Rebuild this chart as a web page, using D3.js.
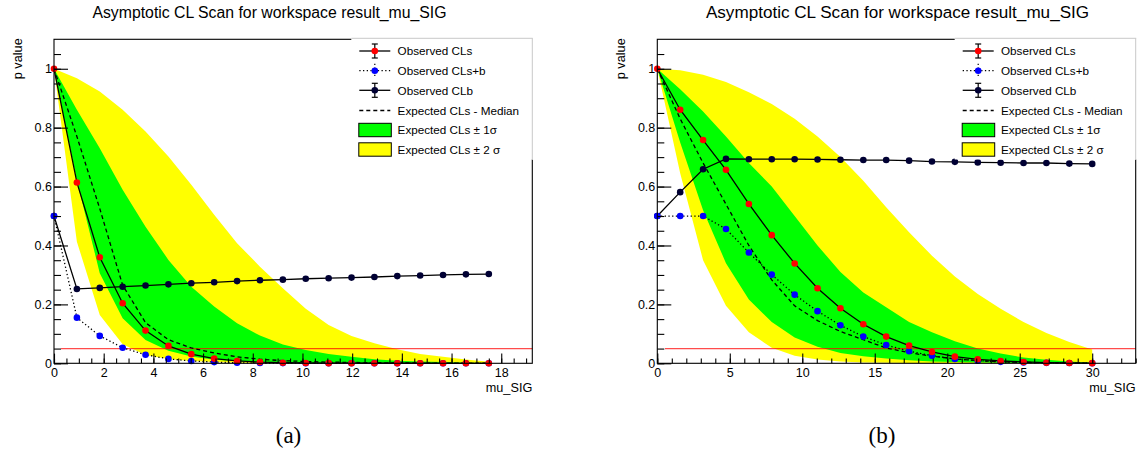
<!DOCTYPE html>
<html><head><meta charset="utf-8">
<script src="https://cdn.jsdelivr.net/npm/d3@7"></script>
<style>body{margin:0;background:#fff}svg{display:block}</style>
</head><body>
<svg id="chart" width="1137" height="455"></svg>
<script>
// ---------- DATA ----------
const titleText = "Asymptotic CL Scan for workspace result_mu_SIG";
const xTitle = "mu_SIG";
const yTitle = "p value";
const captions = ["(a)", "(b)"];
const legendLabels = ["Observed CLs", "Observed CLs+b", "Observed CLb",
  "Expected CLs - Median", "Expected CLs \u00b1 1\u03c3", "Expected CLs \u00b1 2 \u03c3"];
const yMajorTicks = [0, 0.2, 0.4, 0.6, 0.8, 1];
const yTickLabels = ["0", "0.2", "0.4", "0.6", "0.8", "1"];
const leftXTicks = [0, 2, 4, 6, 8, 10, 12, 14, 16, 18];
const rightXTicks = [0, 5, 10, 15, 20, 25, 30];
const cutLevel = 0.05;

// panel (a)
const muA = [0, 0.921, 1.842, 2.763, 3.684, 4.605, 5.526, 6.447, 7.368, 8.289, 9.211,
  10.132, 11.053, 11.974, 12.895, 13.816, 14.737, 15.658, 16.579, 17.5];
const clsA = [1, 0.614, 0.360, 0.204, 0.111, 0.059, 0.031, 0.016, 0.008, 0.004, 0.002,
  0.001, 0.0005, 0.0003, 0.0002, 0.0001, 0.0001, 0, 0, 0];
const clsbA = [0.5, 0.155, 0.093, 0.053, 0.029, 0.015, 0.008, 0.004, 0.002, 0.001, 0.0006,
  0.0003, 0.0002, 0.0001, 0, 0, 0, 0, 0, 0];
const clbA = [0.5, 0.2525, 0.256, 0.260, 0.264, 0.268, 0.272, 0.275, 0.279, 0.282, 0.284,
  0.287, 0.289, 0.291, 0.293, 0.296, 0.298, 0.300, 0.302, 0.303];
const medA = [1, 0.77, 0.525, 0.265, 0.138, 0.08, 0.052, 0.035, 0.022, 0.014, 0.009,
  0.006, 0.004, 0.003, 0.002, 0.0015, 0.001, 0.0007, 0.0005, 0.0003];
const m1A = [1, 0.62, 0.306, 0.153, 0.079, 0.043, 0.023, 0.012, 0.007, 0.004, 0.002,
  0.001, 0.0007, 0.0004, 0.0002, 0.0001, 0.0001, 0, 0, 0];
const p1A = [1, 0.861, 0.730, 0.589, 0.464, 0.351, 0.260, 0.193, 0.136, 0.094, 0.064,
  0.045, 0.032, 0.022, 0.014, 0.009, 0.006, 0.004, 0.002, 0.001];
const m2A = [1, 0.413, 0.164, 0.065, 0.028, 0.015, 0.008, 0.004, 0.002, 0.001, 0.0005,
  0.0003, 0.0001, 0, 0, 0, 0, 0, 0, 0];
const p2A = [1, 0.968, 0.923, 0.861, 0.787, 0.702, 0.606, 0.504, 0.408, 0.328, 0.255,
  0.185, 0.13, 0.093, 0.068, 0.048, 0.032, 0.022, 0.013, 0.005];

// panel (b)
const muB = [0, 1.579, 3.158, 4.737, 6.316, 7.895, 9.474, 11.053, 12.632, 14.211, 15.789,
  17.368, 18.947, 20.526, 22.105, 23.684, 25.263, 26.842, 28.421, 30];
const clsB = [1, 0.861, 0.758, 0.657, 0.541, 0.435, 0.339, 0.255, 0.187, 0.1325, 0.0906,
  0.060, 0.0385, 0.0226, 0.0136, 0.008, 0.0045, 0.002, 0.001, 0.0005];
const clsbB = [0.5, 0.5, 0.5, 0.456, 0.376, 0.301, 0.233, 0.177, 0.129, 0.0906, 0.062,
  0.041, 0.026, 0.015, 0.009, 0.005, 0.003, 0.0015, 0.001, 0.0003];
const clbB = [0.5, 0.581, 0.659, 0.694, 0.693, 0.693, 0.693, 0.692, 0.691, 0.690, 0.690,
  0.688, 0.685, 0.684, 0.682, 0.681, 0.680, 0.680, 0.678, 0.677];
const medB = [1, 0.83, 0.68, 0.54, 0.40, 0.283, 0.195, 0.145, 0.108, 0.08, 0.052,
  0.036, 0.024, 0.015, 0.009, 0.005, 0.003, 0.002, 0.001, 0.0005];
const m1B = [1, 0.75, 0.52, 0.34, 0.217, 0.14, 0.088, 0.056, 0.035, 0.024, 0.016,
  0.010, 0.006, 0.004, 0.0025, 0.0015, 0.001, 0.0005, 0.0003, 0.0001];
const p1B = [1, 0.93, 0.855, 0.77, 0.68, 0.60, 0.50, 0.40, 0.31, 0.24, 0.19,
  0.14, 0.105, 0.075, 0.05, 0.033, 0.02, 0.012, 0.006, 0.002];
const m2B = [1, 0.645, 0.35, 0.195, 0.105, 0.053, 0.026, 0.013, 0.006, 0.003, 0.0015,
  0.0008, 0.0004, 0.0002, 0.0001, 0, 0, 0, 0, 0];
const p2B = [1, 0.995, 0.98, 0.955, 0.92, 0.88, 0.83, 0.77, 0.70, 0.62, 0.53,
  0.445, 0.365, 0.295, 0.235, 0.185, 0.14, 0.103, 0.072, 0.047];

// ---------- LAYOUT ----------
const FONT = "'Liberation Sans', Arial, Helvetica, sans-serif";
const panels = [
  {mu: muA, cls: clsA, clsb: clsbA, clb: clbA, med: medA, m1: m1A, p1: p1A, m2: m2A, p2: p2A,
   fx0: 54, fx1: 532.3, xMax: 19.25, xTicks: leftXTicks, minorStep: 0.5, cutStart: 0.28,
   titleX: 269.5, titleSize: 15.8, capX: 288.5, caption: captions[0]},
  {mu: muB, cls: clsB, clsb: clsbB, clb: clbB, med: medB, m1: m1B, p1: p1B, m2: m2B, p2: p2B,
   fx0: 657.3, fx1: 1135.7, xMax: 33, xTicks: rightXTicks, minorStep: 1, cutStart: 0.53,
   titleX: 897.5, titleSize: 17.1, capX: 882, caption: captions[1]}
];
const fy0 = 39.3, fy1 = 363.3;
const svg = d3.select("#chart");

panels.forEach(p => {
  const g = svg.append("g");
  const x = d3.scaleLinear().domain([0, p.xMax]).range([p.fx0, p.fx1]);
  const y = d3.scaleLinear().domain([0, 1.1]).range([fy1, fy0]);
  const idx = d3.range(p.mu.length);

  // bands
  g.append("path").datum(idx)
    .attr("d", d3.area().x(i => x(p.mu[i])).y0(i => y(p.m2[i])).y1(i => y(p.p2[i])))
    .attr("fill", "#ffff00");
  g.append("path").datum(idx)
    .attr("d", d3.area().x(i => x(p.mu[i])).y0(i => y(p.m1[i])).y1(i => y(p.p1[i])))
    .attr("fill", "#00ff00");

  // 0.05 line
  g.append("line")
    .attr("x1", x(p.cutStart)).attr("x2", p.fx1)
    .attr("y1", y(cutLevel)).attr("y2", y(cutLevel))
    .attr("stroke", "#ff0000").attr("stroke-opacity", 0.7).attr("stroke-width", 1.2);

  // median
  g.append("path").datum(idx)
    .attr("d", d3.line().x(i => x(p.mu[i])).y(i => y(p.med[i])))
    .attr("fill", "none").attr("stroke", "#000").attr("stroke-width", 1.3)
    .attr("stroke-dasharray", "4,3");

  const series = [
    {vals: p.clb, color: "#000033", dash: null},
    {vals: p.clsb, color: "#0000ff", dash: "1.3,2.4"},
    {vals: p.cls, color: "#ff0000", dash: null}
  ];
  series.forEach(s => {
    g.append("path").datum(idx)
      .attr("d", d3.line().x(i => x(p.mu[i])).y(i => y(s.vals[i])))
      .attr("fill", "none").attr("stroke", "#000").attr("stroke-width", 1.3)
      .attr("stroke-dasharray", s.dash);
  });
  series.forEach(s => {
    g.selectAll(null).data(idx).enter().append("circle")
      .attr("cx", i => x(p.mu[i])).attr("cy", i => y(s.vals[i]))
      .attr("r", 3.3).attr("fill", s.color);
  });

  // frame
  g.append("rect").attr("x", p.fx0).attr("y", fy0)
    .attr("width", p.fx1 - p.fx0).attr("height", fy1 - fy0)
    .attr("fill", "none").attr("stroke", "#000").attr("stroke-width", 1.1);

  // y axis (ticks inward)
  const yMinor = d3.range(0, 1.0751, 0.05).map(v => +v.toFixed(2));
  const ya = g.append("g").attr("transform", `translate(${p.fx0},0)`)
    .call(d3.axisLeft(y).tickValues(yMinor).tickSize(-7).tickFormat(""));
  ya.select(".domain").remove();
  const yb = g.append("g").attr("transform", `translate(${p.fx0},0)`)
    .call(d3.axisLeft(y).tickValues(yMajorTicks).tickSize(-14).tickPadding(2)
      .tickFormat((d, i) => yTickLabels[i]));
  yb.select(".domain").remove();
  yb.selectAll("text").attr("font-family", FONT).attr("font-size", 12.5).attr("fill", "#000");

  // x axis
  const xMinor = d3.range(0, p.xMax + 1e-9, p.minorStep);
  const xa = g.append("g").attr("transform", `translate(0,${fy1})`)
    .call(d3.axisBottom(x).tickValues(xMinor).tickSize(-4.8).tickFormat(""));
  xa.select(".domain").remove();
  const xb = g.append("g").attr("transform", `translate(0,${fy1})`)
    .call(d3.axisBottom(x).tickValues(p.xTicks).tickSize(-9.7).tickPadding(5)
      .tickFormat(d3.format("d")));
  xb.select(".domain").remove();
  xb.selectAll("text").attr("font-family", FONT).attr("font-size", 12.5).attr("fill", "#000");
  g.selectAll(".tick line").attr("stroke", "#000").attr("stroke-width", 1.1);

  // axis titles
  g.append("text").attr("x", p.fx1).attr("y", 391.5).attr("text-anchor", "end")
    .attr("font-family", FONT).attr("font-size", 12.7).text(xTitle);
  g.append("text").attr("transform", `translate(${p.fx0 - 32},${fy0 - 1}) rotate(-90)`)
    .attr("text-anchor", "end").attr("font-family", FONT).attr("font-size", 12.7).text(yTitle);

  // title
  g.append("text").attr("x", p.titleX).attr("y", 18.3).attr("text-anchor", "middle")
    .attr("font-family", FONT).attr("font-size", p.titleSize).text(titleText);

  // caption
  g.append("text").attr("x", p.capX).attr("y", 443).attr("text-anchor", "middle")
    .attr("font-family", "'Liberation Serif', 'DejaVu Serif', serif").attr("font-size", 23)
    .text(p.caption);

  // legend
  const lx0 = p.fx1 - 181, lx1 = p.fx1 + 0.5, ly0 = 38.3, ly1 = 160;
  const lg = g.append("g");
  lg.append("rect").attr("x", lx0).attr("y", ly0 - 0.5).attr("width", lx1 - lx0 + 1)
    .attr("height", ly1 - ly0).attr("fill", "#fff");
  lg.append("line").attr("x1", lx0).attr("x2", lx1).attr("y1", ly0).attr("y2", ly0)
    .attr("stroke", "#c8c8c8").attr("stroke-width", 1);
  lg.append("line").attr("x1", lx1 - 0.5).attr("x2", lx1 - 0.5).attr("y1", ly0).attr("y2", ly1)
    .attr("stroke", "#c8c8c8").attr("stroke-width", 1);
  const sx0 = lx0 + 8, sx1 = lx0 + 39, sxm = (sx0 + sx1) / 2, tx = lx0 + 46.3;
  const rowY = [51, 70.7, 90.3, 110.5, 130, 149.5];
  legendLabels.forEach((lab, i) => {
    const ry = rowY[i];
    if (i <= 2) {
      const col = ["#ff0000", "#0000ff", "#000033"][i];
      const dash = i === 1 ? "1.3,2.4" : null;
      lg.append("line").attr("x1", sx0).attr("x2", sx1).attr("y1", ry).attr("y2", ry)
        .attr("stroke", "#000").attr("stroke-width", 1.3).attr("stroke-dasharray", dash);
      lg.append("line").attr("x1", sxm).attr("x2", sxm).attr("y1", ry - 7).attr("y2", ry + 7)
        .attr("stroke", "#000").attr("stroke-width", 1.2).attr("stroke-dasharray", dash);
      if (i !== 1) {
        [ry - 7, ry + 7].forEach(cy => lg.append("line")
          .attr("x1", sxm - 3).attr("x2", sxm + 3).attr("y1", cy).attr("y2", cy)
          .attr("stroke", "#000").attr("stroke-width", 1.2));
      }
      lg.append("circle").attr("cx", sxm).attr("cy", ry).attr("r", 3.3).attr("fill", col);
    } else if (i === 3) {
      lg.append("line").attr("x1", sx0).attr("x2", sx1).attr("y1", ry).attr("y2", ry)
        .attr("stroke", "#000").attr("stroke-width", 1.3).attr("stroke-dasharray", "4,3");
    } else {
      lg.append("rect").attr("x", sx0 - 0.5).attr("y", ry - 6.7).attr("width", sx1 - sx0 + 1.5)
        .attr("height", 13.4).attr("fill", i === 4 ? "#00ff00" : "#ffff00")
        .attr("stroke", "#000").attr("stroke-width", 1);
    }
    lg.append("text").attr("x", tx).attr("y", ry + 4.2).attr("font-family", FONT)
      .attr("font-size", 11.7).text(lab);
  });
});
</script>
</body></html>
